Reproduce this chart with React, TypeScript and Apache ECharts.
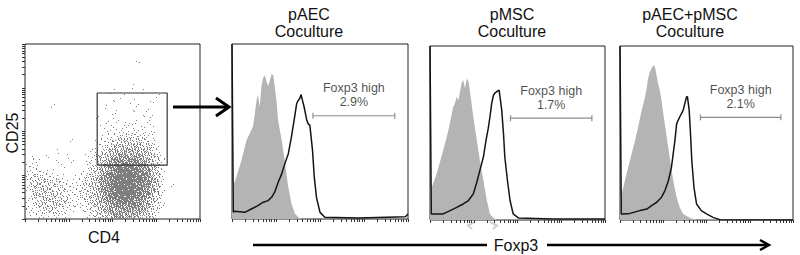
import React, { useEffect, useRef } from "react";
import * as echarts from "echarts";

// ---------- data ----------
const DECADES = [0, 1, 2, 3];
const MINOR_STEPS = [1, 2, 3, 4, 5, 6, 7, 8, 9];

// CD4 (cols) x CD25 (rows, top -> bottom) event density, 0..9
const DENSITY_ROWS = [
  "00000 00000 00000 00000 00000 00000 00000",
  "00000 00000 00000 00000 00000 00000 00000",
  "00000 00000 00000 00000 00000 00000 00000",
  "00000 00000 00000 00000 00100 00000 00000",
  "00000 00000 00000 00000 00000 00000 00000",
  "00000 00000 00000 00000 00000 00000 00000",
  "00000 00000 00000 00000 00000 00000 00000",
  "00000 00000 00000 00000 00000 00000 00000",
  "00000 00000 00000 00000 01000 00000 00000",
  "00000 00000 00000 00100 00010 00000 00000",
  "00000 00000 00000 00001 00000 01000 00000",
  "00000 00000 00000 00100 01000 10000 00000",
  "00000 10000 00000 01000 00100 00000 00000",
  "00000 00000 00000 00010 01001 00000 00000",
  "00000 00000 00001 00100 00010 10000 00000",
  "00000 00000 00000 01010 10101 00000 00000",
  "00000 00000 00000 10101 11010 10000 00000",
  "00000 00000 00000 01111 11111 10000 00000",
  "00000 00000 00000 11112 22221 10000 00000",
  "00000 00001 00001 11223 33322 10000 00000",
  "00000 00000 00001 12344 44433 21000 00000",
  "00000 01000 00011 23455 55544 21000 00000",
  "01001 00010 00112 34566 66654 32100 00000",
  "01100 01001 00112 45677 77765 32100 00000",
  "11100 00100 00123 56788 88776 43100 00000",
  "11111 10000 01123 56789 98877 43100 00000",
  "12221 11100 11234 67899 99887 53100 00000",
  "12332 22111 11234 67899 99887 54100 00000",
  "12333 22211 12234 67899 99887 53101 00000",
  "12333 32211 12234 67899 99877 53100 00000",
  "12333 32221 12234 57889 98876 42100 00000",
  "11233 33221 11234 56788 88765 32100 00000",
  "11223 33211 11123 45677 77765 32100 00000",
  "11122 22111 01123 45666 66654 21000 00000",
  "01111 11110 00112 34566 65543 21000 00000",
];

// CD4+ CD25+ gate (decade units)
const GATE_BOX = [
  [1.65, 1.23],
  [3.25, 1.23],
  [3.25, 2.88],
  [1.65, 2.88],
  [1.65, 1.23],
];

const TITLES = ["pAEC\nCoculture", "pMSC\nCoculture", "pAEC+pMSC\nCoculture"];
const GATE_NAME = "Foxp3 high";
const GATE_PCT = ["2.9%", "1.7%", "2.1%"];
const GATE_RANGE = [
  [1.84, 3.7],
  [1.84, 3.7],
  [1.86, 3.72],
];
const GATE_LEVEL = [59, 58.5, 59];

// Foxp3 histograms: [log decade, % of max]
const PAEC_ISO = [
  [0, 20], [0.06, 21], [0.21, 33], [0.33, 45], [0.48, 53], [0.56, 68], [0.59, 71],
  [0.63, 64], [0.67, 76], [0.71, 81], [0.75, 82], [0.78, 79], [0.82, 76], [0.86, 79],
  [0.9, 83], [0.94, 82], [0.97, 76], [1.01, 68], [1.05, 56], [1.13, 45], [1.2, 33],
  [1.28, 18], [1.35, 9], [1.43, 3], [1.51, 1], [1.58, 0], [4, 0],
];
const PAEC_SAMPLE = [
  [0, 100], [0.03, 4], [0.06, 4.4], [0.29, 3.8], [0.44, 5.7], [0.59, 7.6], [0.71, 9.6],
  [0.82, 10.5], [0.9, 12.4], [0.97, 15.3], [1.05, 21], [1.13, 25.8], [1.2, 31.5],
  [1.28, 37.3], [1.35, 46.8], [1.43, 59.3], [1.47, 66], [1.51, 67.9], [1.54, 68.8],
  [1.57, 71.1], [1.6, 67.9], [1.64, 64], [1.7, 56.4], [1.73, 54.5], [1.77, 53.5],
  [1.79, 48.8], [1.83, 39.2], [1.87, 23.9], [1.92, 12.4], [2.0, 3.8], [2.11, 1],
  [2.87, 0.6], [3.94, 1.3], [4, 2.9],
];
const PMSC_ISO = [
  [0, 18], [0.04, 18.8], [0.15, 26.5], [0.3, 40], [0.42, 51.5], [0.53, 65], [0.57, 67],
  [0.61, 70.8], [0.65, 68.8], [0.69, 74.6], [0.72, 78.5], [0.76, 80.4], [0.8, 75.6],
  [0.84, 81.3], [0.88, 79.4], [0.91, 74.6], [0.95, 67], [0.99, 59.2], [1.07, 45.8],
  [1.14, 34.2], [1.22, 22.7], [1.3, 11.2], [1.37, 3.5], [1.45, 1.2], [1.52, 0.2], [4, 0],
];
const PMSC_SAMPLE = [
  [0, 100], [0.03, 3.5], [0.3, 3.5], [0.46, 5.4], [0.61, 7.3], [0.76, 9.2], [0.88, 11.2],
  [0.99, 15], [1.07, 21.7], [1.14, 28.5], [1.22, 36.2], [1.28, 45.8], [1.33, 52.5],
  [1.37, 59.2], [1.41, 67], [1.45, 71.7], [1.49, 73.1], [1.52, 73.7], [1.58, 74.6],
  [1.6, 70.8], [1.64, 63], [1.68, 49.6], [1.71, 36.2], [1.77, 22.7], [1.83, 11.2],
  [1.9, 3.5], [2.02, 1.2], [2.82, 0.6], [4, 0.6],
];
const BOTH_ISO = [
  [0, 14], [0.04, 15], [0.15, 26.5], [0.23, 34.2], [0.35, 45.8], [0.42, 53.5], [0.5, 63],
  [0.58, 70.8], [0.62, 76.5], [0.65, 81.3], [0.69, 85.2], [0.73, 87.1], [0.77, 89],
  [0.81, 88], [0.85, 82.3], [0.88, 78.5], [0.92, 74.6], [0.96, 68.8], [1.0, 61.2],
  [1.08, 47.7], [1.15, 36.2], [1.23, 22.7], [1.31, 13.1], [1.38, 7.3], [1.46, 3.5],
  [1.62, 1.2], [1.77, 0.2], [4, 0],
];
const BOTH_SAMPLE = [
  [0, 100], [0.03, 3.5], [0.06, 3.5], [0.23, 3.8], [0.46, 5.4], [0.62, 6.3], [0.73, 8.3],
  [0.85, 10.2], [0.96, 13.1], [1.04, 16.9], [1.12, 22.7], [1.19, 30.4], [1.27, 45.8],
  [1.31, 55.4], [1.38, 59.2], [1.46, 63], [1.5, 67], [1.54, 70.8], [1.56, 70.8],
  [1.6, 63], [1.63, 49.6], [1.66, 34.2], [1.71, 18.8], [1.77, 9.2], [1.88, 5.4],
  [2.0, 3.5], [2.15, 1.5], [2.31, 0.2], [4, 0],
];
const ISO_SETS = [PAEC_ISO, PMSC_ISO, BOTH_ISO];
const SAMPLE_SETS = [PAEC_SAMPLE, PMSC_SAMPLE, BOTH_SAMPLE];

// ---------- styles ----------
const DOT_COLOR = "#7f7f7f";
// dots lit per 5x5 sub-cell for density 0..9
const DOTS_PER_LEVEL = [0, 2, 5, 7, 9, 12, 15, 18, 21, 24];
// fixed dither order inside a cell
const DITHER = [
  [0, 12, 3, 15, 8],
  [19, 6, 22, 10, 17],
  [4, 14, 1, 24, 11],
  [21, 9, 18, 5, 13],
  [7, 23, 16, 2, 20],
];
const FONT = '"Liberation Sans", Arial, sans-serif';
const HIST_GRIDS = [
  { left: 232, top: 44, width: 176, height: 175 },
  { left: 430, top: 46, width: 175, height: 174 },
  { left: 620, top: 46, width: 173, height: 174 },
];
const TITLE_POS = [309, 512, 690];

function logTicks() {
  const out: number[] = [];
  DECADES.forEach((d) => MINOR_STEPS.forEach((k) => out.push(d + Math.log10(k))));
  out.push(DECADES.length);
  return out;
}

export default function App() {
  const ref = useRef<HTMLDivElement>(null);

  useEffect(() => {
    if (!ref.current) return;
    const chart = echarts.init(ref.current, null, { renderer: "svg" });
    const ticks = logTicks();

    const cells: number[][] = [];
    DENSITY_ROWS.forEach((row, r) => {
      row.replace(/ /g, "").split("").forEach((ch, c) => {
        const v = Number(ch);
        if (v > 0) cells.push([c, r, v]);
      });
    });
    const nCols = DENSITY_ROWS[0].replace(/ /g, "").length;
    const nRows = DENSITY_ROWS.length;

    const tickAxis = (gridIndex: number, position: string) => ({
      gridIndex,
      type: "value",
      position,
      min: 0,
      max: 4,
      axisLine: { show: false, onZero: false },
      axisTick: {
        show: true,
        customValues: ticks,
        length: 3,
        lineStyle: { color: "#333", width: 1 },
      },
      axisLabel: { show: false },
      splitLine: { show: false },
    });

    const gridStyle = { show: true, borderColor: "#222", borderWidth: 1, backgroundColor: "transparent" };

    const xAxis: any[] = [
      { gridIndex: 0, type: "value", position: "top", min: 0, max: nCols, show: false },
      tickAxis(0, "bottom"),
    ];
    const yAxis: any[] = [
      { gridIndex: 0, type: "value", position: "right", min: 0, max: nRows, inverse: true, show: false },
      tickAxis(0, "left"),
    ];
    HIST_GRIDS.forEach((_, i) => {
      xAxis.push(tickAxis(i + 1, "bottom"));
      yAxis.push({ gridIndex: i + 1, type: "value", min: 0, max: 100, show: false });
    });

    const series: any[] = [
      {
        type: "custom",
        xAxisIndex: 0,
        yAxisIndex: 0,
        data: cells,
        encode: { x: 0, y: 1 },
        renderItem: (params: any, api: any) => {
          const c = api.value(0);
          const r = api.value(1);
          const v = api.value(2);
          const p0 = api.coord([c, r]);
          const p1 = api.coord([c + 1, r + 1]);
          const x0 = Math.min(p0[0], p1[0]);
          const y0 = Math.min(p0[1], p1[1]);
          const sw = Math.abs(p1[0] - p0[0]) / 5;
          const sh = Math.abs(p1[1] - p0[1]) / 5;
          const n = DOTS_PER_LEVEL[v];
          const shift = (c * 7 + r * 11) % 25;
          const children: any[] = [];
          for (let j = 0; j < 5; j++) {
            for (let i = 0; i < 5; i++) {
              const t = (DITHER[j][i] + shift) % 25;
              if (t < n) {
                children.push({
                  type: "rect",
                  shape: { x: x0 + i * sw, y: y0 + j * sh, width: sw, height: sh },
                  style: { fill: DOT_COLOR },
                });
              }
            }
          }
          return { type: "group", children };
        },
      },
      {
        type: "line",
        xAxisIndex: 1,
        yAxisIndex: 1,
        data: GATE_BOX,
        showSymbol: false,
        lineStyle: { color: "#333", width: 1.2 },
        z: 5,
      },
    ];

    HIST_GRIDS.forEach((_, i) => {
      const ax = i + 2;
      series.push({
        type: "line",
        xAxisIndex: ax,
        yAxisIndex: ax,
        data: ISO_SETS[i],
        showSymbol: false,
        lineStyle: { width: 0, opacity: 0 },
        areaStyle: { color: "#b4b4b4", opacity: 1 },
        z: 2,
      });
      series.push({
        type: "line",
        xAxisIndex: ax,
        yAxisIndex: ax,
        data: SAMPLE_SETS[i],
        showSymbol: false,
        lineStyle: { color: "#141414", width: 1.5 },
        z: 3,
      });
      const [a, b] = GATE_RANGE[i];
      const lvl = GATE_LEVEL[i];
      series.push({
        type: "line",
        xAxisIndex: ax,
        yAxisIndex: ax,
        data: [
          [a, lvl],
          [b, lvl],
        ],
        symbol: "rect",
        symbolSize: [1.2, 6],
        showSymbol: true,
        itemStyle: { color: "#8c8c8c" },
        lineStyle: { color: "#8c8c8c", width: 1.2 },
        z: 4,
      });
      series.push({
        type: "scatter",
        xAxisIndex: ax,
        yAxisIndex: ax,
        data: [[(a + b) / 2, lvl]],
        symbolSize: 1,
        itemStyle: { color: "transparent" },
        label: {
          show: true,
          position: "top",
          distance: 6,
          formatter: `${GATE_NAME}\n${GATE_PCT[i]}`,
          fontFamily: FONT,
          fontSize: 12.5,
          lineHeight: 14,
          color: "#1e1e1e",
          align: "center",
        },
        z: 4,
      });
    });

    const txt = (text: string, x: number, y: number, size: number, extra: any = {}) => ({
      type: "text",
      x,
      y,
      ...extra,
      style: {
        text,
        fill: "#111",
        fontFamily: FONT,
        fontSize: size,
        align: "center",
        verticalAlign: "middle",
        lineHeight: 17,
      },
    });

    const graphic: any[] = [
      txt("CD25", 12, 133, 16, { rotation: Math.PI / 2 }),
      txt("CD4", 104, 237, 16),
      txt("Foxp3", 516, 245, 16),
      // gate -> histograms arrow
      { type: "line", shape: { x1: 173, y1: 107, x2: 228, y2: 107 }, style: { stroke: "#000", lineWidth: 3 } },
      {
        type: "polyline",
        shape: { points: [[216, 98], [229, 107], [216, 116]] },
        style: { stroke: "#000", lineWidth: 3, fill: "none" },
      },
      // Foxp3 axis arrow
      { type: "line", shape: { x1: 253, y1: 245, x2: 487, y2: 245 }, style: { stroke: "#000", lineWidth: 2.5 } },
      { type: "line", shape: { x1: 547, y1: 245, x2: 768, y2: 245 }, style: { stroke: "#000", lineWidth: 2.5 } },
      {
        type: "polyline",
        shape: { points: [[760, 240], [769, 245], [760, 250]] },
        style: { stroke: "#000", lineWidth: 2.5, fill: "none" },
      },
      // faint marks under middle panel
      {
        type: "polyline",
        shape: { points: [[475, 222], [468, 225.5], [472, 229]] },
        style: { stroke: "#d0d0d0", lineWidth: 2, fill: "none" },
      },
      {
        type: "polyline",
        shape: { points: [[490, 222], [497, 225.5], [493, 229]] },
        style: { stroke: "#d0d0d0", lineWidth: 2, fill: "none" },
      },
    ];
    TITLES.forEach((t, i) => {
      graphic.push({
        type: "text",
        x: TITLE_POS[i],
        y: 6,
        style: {
          text: t,
          fill: "#111",
          fontFamily: FONT,
          fontSize: 16,
          lineHeight: 17,
          align: "center",
          verticalAlign: "top",
        },
      });
    });

    chart.setOption({
      animation: false,
      backgroundColor: "#ffffff",
      grid: [
        { left: 25, top: 44, width: 175, height: 175, ...gridStyle },
        ...HIST_GRIDS.map((g) => ({ ...g, ...gridStyle })),
      ],
      xAxis,
      yAxis,
      series,
      graphic,
    });

    return () => chart.dispose();
  }, []);

  return (
    <div
      ref={ref}
      style={{ position: "fixed", left: 0, top: 0, width: 800, height: 255, background: "#fff" }}
    />
  );
}
